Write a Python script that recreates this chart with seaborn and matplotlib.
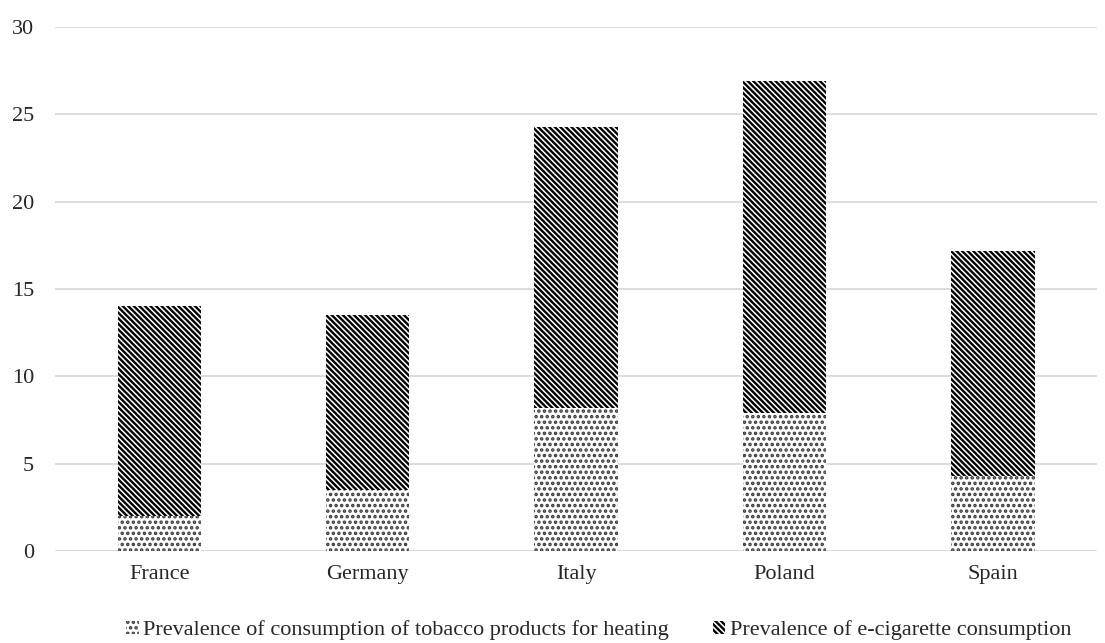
import numpy as np
import pandas as pd
import seaborn as sns
import matplotlib.pyplot as plt
from matplotlib.patches import Patch

# data
countries = ['France', 'Germany', 'Italy', 'Poland', 'Spain']
heating = [2.0, 3.5, 8.2, 7.9, 4.3]
ecig = [12.0, 10.0, 16.1, 19.0, 12.9]

heat_label = 'Prevalence of consumption of tobacco products for heating'
ecig_label = 'Prevalence of e-cigarette consumption'

sns.set_style('white')
plt.rcParams['font.family'] = ['Liberation Serif', 'DejaVu Serif']
plt.rcParams['hatch.linewidth'] = 1.7

stripe = '\\' * 6
dots = '...'

df = pd.DataFrame({'country': countries,
                   'heating': heating,
                   'ecig': ecig})
df['total'] = df['heating'] + df['ecig']

fig = plt.figure(figsize=(11.05, 6.43), dpi=100)
ax = fig.add_axes([0.0498, 0.143, 0.9432, 0.815])

# stacked: draw total first, then the bottom segment on top of it
sns.barplot(data=df, x='country', y='total', color='white', width=0.4,
            hatch=stripe, edgecolor='black', linewidth=0, ax=ax, zorder=3)
sns.barplot(data=df, x='country', y='heating', color='white', width=0.4,
            hatch=dots, edgecolor='#3a3a3a', linewidth=0, ax=ax, zorder=4)

ax.set_ylim(0, 30)
ax.set_xlim(-0.5, 4.5)
ax.set_yticks(np.arange(0, 31, 5))
ax.yaxis.grid(True, color='#d9d9d9', linewidth=1.3, zorder=0)
ax.set_axisbelow(True)
for s in ax.spines.values():
    s.set_visible(False)
ax.tick_params(axis='both', length=0, labelsize=16, colors='#262626')
ax.tick_params(axis='x', pad=10)
ax.tick_params(axis='y', pad=15)
ax.set_xlabel('')
ax.set_ylabel('')

handles = [Patch(facecolor='white', edgecolor='#3a3a3a', hatch=dots, linewidth=0, label=heat_label),
           Patch(facecolor='white', edgecolor='black', hatch=stripe, linewidth=0, label=ecig_label)]
fig.legend(handles=handles, loc='center', bbox_to_anchor=(0.542, 0.02),
           ncol=2, frameon=False, fontsize=16, handlelength=0.55, handleheight=0.55,
           handletextpad=0.2, columnspacing=2.0, labelcolor='#262626')

plt.savefig('out.png', dpi=100)
